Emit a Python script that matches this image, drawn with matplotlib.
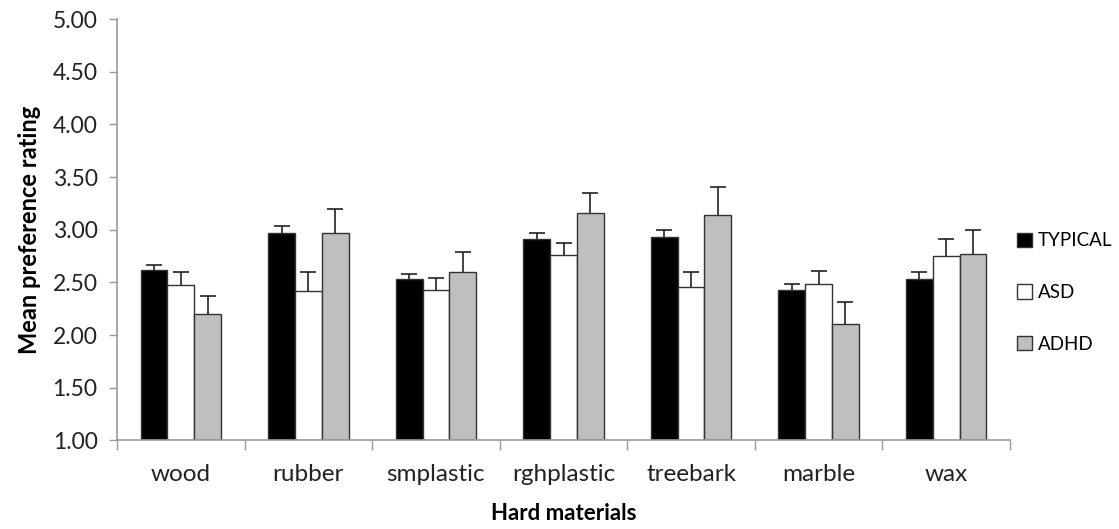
import numpy as np
from matplotlib import pyplot as plt

# Mean preference ratings for hard materials, by group
materials = ["wood", "rubber", "smplastic", "rghplastic", "treebark", "marble", "wax"]
groups = ["TYPICAL", "ASD", "ADHD"]

typical = [2.62, 2.97, 2.53, 2.91, 2.93, 2.43, 2.53]
asd = [2.48, 2.42, 2.43, 2.76, 2.46, 2.49, 2.75]
adhd = [2.20, 2.97, 2.60, 3.16, 3.14, 2.11, 2.77]

typical_err = [0.05, 0.07, 0.05, 0.06, 0.07, 0.06, 0.07]
asd_err = [0.12, 0.18, 0.11, 0.11, 0.14, 0.12, 0.16]
adhd_err = [0.17, 0.23, 0.19, 0.19, 0.27, 0.20, 0.23]

plt.rcParams['font.family'] = ['Lato', 'DejaVu Sans']

fig = plt.figure(figsize=(11.19, 5.29), dpi=100)
ax = fig.add_axes([0.1046, 0.1673, 0.798, 0.7967])

width = 0.21
x = np.arange(len(materials))
series = [
    (typical, typical_err, 'black'),
    (asd, asd_err, 'white'),
    (adhd, adhd_err, '#bfbfbf'),
]
for i, (vals, errs, color) in enumerate(series):
    pos = x + (i - 1) * width
    ax.bar(pos, np.array(vals) - 1.0, width, bottom=1.0, color=color,
           edgecolor='#333333', linewidth=1.0, label=groups[i], zorder=2)
    eb = ax.errorbar(pos, vals, yerr=[np.zeros(len(errs)), errs], fmt='none',
                     ecolor='#222222', elinewidth=1.2, capsize=6, capthick=1.2,
                     zorder=3)
    # only the upper cap is wanted
    eb[1][0].set_visible(False)

ax.set_ylim(1.0, 5.0)
ax.set_xlim(-0.5, len(materials) - 0.5)
ax.set_yticks(np.arange(1.0, 5.01, 0.5))
ax.set_yticklabels(["%.2f" % v for v in np.arange(1.0, 5.01, 0.5)])
ax.set_xticks(x)
ax.set_xticklabels(materials)
ax.set_xticks(np.arange(-0.5, len(materials), 1.0), minor=True)
ax.tick_params(axis='x', which='major', length=0, pad=17, labelsize=17.5,
               colors='#222222')
ax.tick_params(axis='x', which='minor', length=7, color='#999999', width=1)
ax.tick_params(axis='y', length=6, color='#999999', width=1, labelsize=16.5,
               colors='#222222', pad=8)

for side in ['top', 'right']:
    ax.spines[side].set_visible(False)
for side in ['left', 'bottom']:
    ax.spines[side].set_color('#999999')
    ax.spines[side].set_linewidth(1.2)

ax.set_ylabel("Mean preference rating", fontsize=17, fontweight='bold', labelpad=8)
ax.set_xlabel("Hard materials", fontsize=16, fontweight='bold', labelpad=13)

fig.legend(loc='center left', bbox_to_anchor=(0.894, 0.447), frameon=False,
           fontsize=13.5, handlelength=0.8, handleheight=0.8, handletextpad=0.3,
           labelspacing=1.85)

fig.savefig('out.png', dpi=100)
